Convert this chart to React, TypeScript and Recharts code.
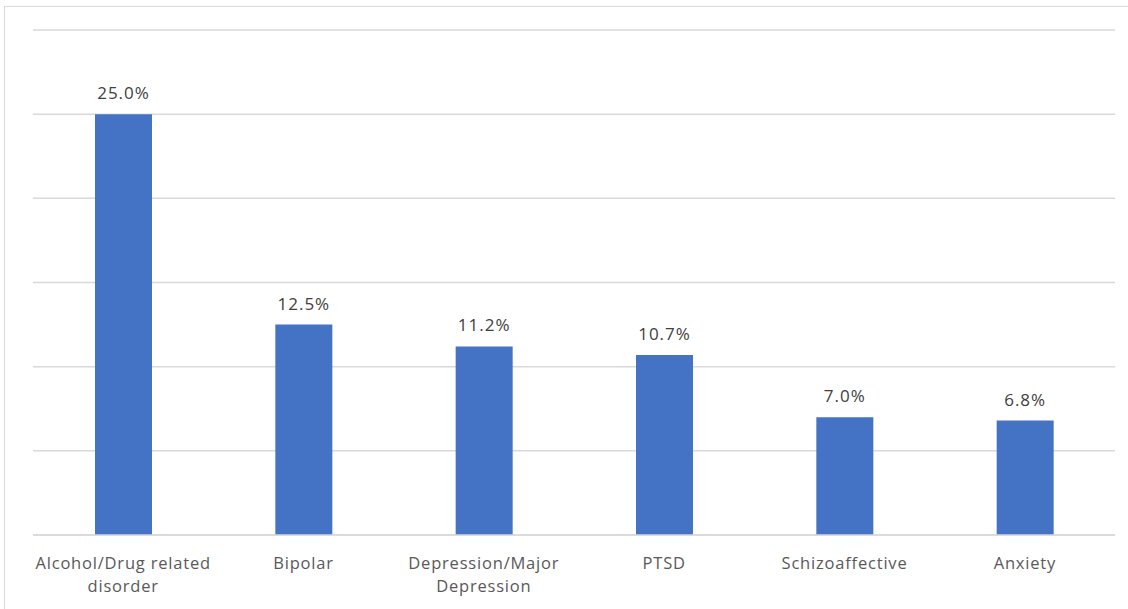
import React from 'react';
import { BarChart, Bar, XAxis, YAxis, CartesianGrid, LabelList } from 'recharts';

const categories = ['Alcohol/Drug related disorder', 'Bipolar', 'Depression/Major Depression', 'PTSD', 'Schizoaffective', 'Anxiety'];
const categoryLines = [['Alcohol/Drug related', 'disorder'], ['Bipolar'], ['Depression/Major', 'Depression'], ['PTSD'], ['Schizoaffective'], ['Anxiety']];
const percents = [25.0, 12.5, 11.2, 10.7, 7.0, 6.8];
const yTicks = [0, 5, 10, 15, 20, 25, 30];

const data = categories.map((c, i) => ({ name: c, value: percents[i], idx: i }));

const FONT = '"Open Sans", sans-serif';

const CatTick = (props: any) => {
  const { x, y, payload } = props;
  const lines = categoryLines[payload.index] || [payload.value];
  return (
    <g transform={`translate(${x},${y})`}>
      {lines.map((l: string, i: number) => (
        <text key={i} x={0} y={0} dy={26 + i * 23} textAnchor="middle" fill="#595959" fontSize={16.5} letterSpacing={0.8} fontFamily={FONT}>
          {l}
        </text>
      ))}
    </g>
  );
};

export default function App() {
  return (
    <div style={{ position: 'absolute', left: 0, top: 0, width: 1128, height: 609, overflow: 'hidden', background: '#fff' }}>
      <div style={{ position: 'absolute', left: 4, top: 6, width: 1140, height: 640, border: '1.5px solid #d9d9d9', boxSizing: 'border-box' }} />
      <div style={{ position: 'absolute', left: 0, top: 0 }}>
        <BarChart width={1128} height={609} data={data} margin={{ top: 30, left: 33, right: 13, bottom: 44 }}>
          <CartesianGrid vertical={false} stroke="#d9d9d9" strokeWidth={1.5} />
          <YAxis hide domain={[0, 30]} ticks={yTicks} type="number" />
          <XAxis dataKey="name" height={30} axisLine={{ stroke: '#d9d9d9', strokeWidth: 1.5 }} tickLine={false} tick={<CatTick />} interval={0} />
          <Bar dataKey="value" fill="#4472C4" barSize={57} isAnimationActive={false}>
            <LabelList dataKey="value" position="top" offset={15} fill="#404040" fontSize={17} letterSpacing={1} fontFamily={FONT}
              formatter={(v: any) => `${Number(v).toFixed(1)}%`} />
          </Bar>
        </BarChart>
      </div>
    </div>
  );
}
